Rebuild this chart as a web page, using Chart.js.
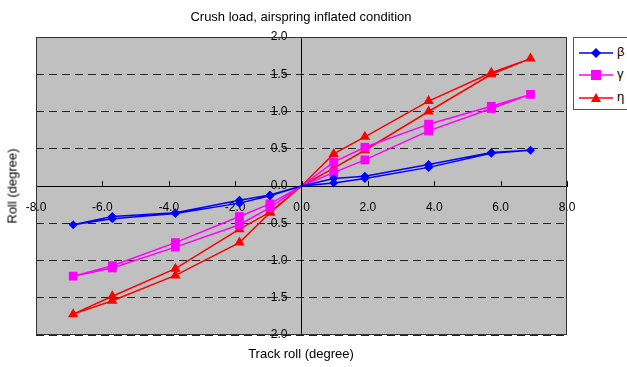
<!DOCTYPE html>
<html>
<head>
<meta charset="utf-8" />
<title>Crush load chart</title>
<script src="https://cdn.jsdelivr.net/npm/chart.js"></script>
<style>
  body, html { margin: 0; padding: 0; background: #fff; font-family: Arial, "Liberation Sans", sans-serif; }
  #wrap { position: relative; width: 627px; height: 367px; }
  canvas { position: absolute; left: 0; top: 0; }
  .title { position: absolute; top: 9px; left: 0; width: 602px; text-align: center; font-size: 13px; color: #000; }
  .xtitle { position: absolute; top: 346px; left: 0; width: 602px; text-align: center; font-size: 13px; color: #000; }
  .ytitle { position: absolute; left: 12px; top: 186px; font-size: 13px; font-weight: normal; color: #000; transform: translate(-50%, -50%) rotate(-90deg); white-space: nowrap; }
  .legend { position: absolute; left: 573px; top: 37px; width: 60px; height: 73px; border: 1px solid #555; background: #fff; box-sizing: border-box; }
  .legend .row { position: absolute; left: 5px; height: 16px; font-size: 13px; }
  .legend svg { position: absolute; left: 0; top: 0; }
  .legend span { position: absolute; left: 38px; top: -1px; }
</style>
</head>
<body>
<div id="wrap">
  <canvas id="myChart" width="627" height="367"></canvas>
  <div class="title">Crush load, airspring inflated condition</div>
  <div class="xtitle">Track roll (degree)</div>
  <div class="ytitle">Roll (degree)</div>
  <div class="legend">
    <div class="row" style="top:7px">
      <svg width="36" height="16"><line x1="0" y1="8" x2="34" y2="8" stroke="#0000ff" stroke-width="1.5"/><polygon points="17,3 22,8 17,13 12,8" fill="#0000ff"/></svg>
      <span>β</span>
    </div>
    <div class="row" style="top:29px">
      <svg width="36" height="16"><line x1="0" y1="8" x2="34" y2="8" stroke="#ff00ff" stroke-width="1.5"/><rect x="12" y="3" width="10" height="10" fill="#ff00ff"/></svg>
      <span>γ</span>
    </div>
    <div class="row" style="top:52px">
      <svg width="36" height="16"><line x1="0" y1="8" x2="34" y2="8" stroke="#ff0000" stroke-width="1.5"/><polygon points="17,3 22,12 12,12" fill="#ff0000"/></svg>
      <span>η</span>
    </div>
  </div>
</div>
<script>
  // track roll path: out to +7, back to 0, out to -7, back to 0
  const trackRoll = [0, 0.97, 1.91, 3.83, 5.72, 6.9, 5.72, 3.83, 1.91, 0.97, 0,
                     -0.95, -1.87, -3.8, -5.7, -6.88, -5.7, -3.8, -1.87, -0.95, 0];

  const betaRoll = [0, 0.04, 0.10, 0.25, 0.44, 0.48, 0.45, 0.29, 0.13, 0.10, 0,
                    -0.12, -0.19, -0.36, -0.41, -0.52, -0.44, -0.37, -0.23, -0.13, 0];
  const gammaRoll = [0, 0.18, 0.35, 0.74, 1.04, 1.23, 1.07, 0.83, 0.52, 0.32, 0,
                     -0.24, -0.41, -0.76, -1.07, -1.21, -1.10, -0.82, -0.52, -0.29, 0];
  const etaRoll = [0, 0.24, 0.48, 1.00, 1.50, 1.71, 1.52, 1.14, 0.66, 0.43, 0,
                   -0.35, -0.58, -1.11, -1.48, -1.72, -1.54, -1.20, -0.76, -0.36, 0];

  const seriesNames = ['β', 'γ', 'η'];
  const xTicks = [-8, -6, -4, -2, 0, 2, 4, 6, 8];
  const yTicks = [-2, -1.5, -1, -0.5, 0, 0.5, 1, 1.5, 2];

  function toPoints(ys) {
    return trackRoll.map((x, i) => ({ x: x, y: ys[i] }));
  }
  // no marker at the origin
  function radii(r) {
    return trackRoll.map(x => (x === 0 ? 0 : r));
  }

  const plotFrame = {
    id: 'plotFrame',
    beforeDraw(chart) {
      const { ctx, chartArea: a } = chart;
      ctx.save();
      ctx.fillStyle = '#c0c0c0';
      ctx.fillRect(a.left, a.top, a.right - a.left, a.bottom - a.top);
      ctx.restore();
    },
    afterDraw(chart) {
      const { ctx, chartArea: a } = chart;
      const xs = chart.scales.x, ys = chart.scales.y;
      const y0 = ys.getPixelForValue(0);
      const x0 = xs.getPixelForValue(0);
      ctx.save();
      ctx.strokeStyle = '#000';
      ctx.lineWidth = 1;
      ctx.beginPath();
      xTicks.forEach(v => {
        const px = Math.round(xs.getPixelForValue(v)) + 0.5;
        ctx.moveTo(px, y0);
        ctx.lineTo(px, y0 - 5);
      });
      ctx.stroke();
      // y tick labels, right-aligned just left of the centred axis
      ctx.fillStyle = '#000';
      ctx.font = '12px Arial';
      ctx.textAlign = 'right';
      ctx.textBaseline = 'middle';
      yTicks.forEach(v => {
        ctx.fillText(v.toFixed(1), x0 - 14, ys.getPixelForValue(v));
      });
      ctx.strokeStyle = '#333';
      ctx.strokeRect(a.left + 0.5, a.top + 0.5, a.right - a.left - 1, a.bottom - a.top - 1);
      ctx.restore();
    }
  };

  const ctx = document.getElementById('myChart').getContext('2d');
  new Chart(ctx, {
    type: 'scatter',
    data: {
      datasets: [
        { label: seriesNames[0], data: toPoints(betaRoll), showLine: true, borderColor: '#0000ff', backgroundColor: '#0000ff',
          borderWidth: 1.5, pointStyle: 'rectRot', pointRadius: radii(4.5), pointBorderWidth: 0 },
        { label: seriesNames[1], data: toPoints(gammaRoll), showLine: true, borderColor: '#ff00ff', backgroundColor: '#ff00ff',
          borderWidth: 1.5, pointStyle: 'rect', pointRadius: radii(6.2), pointBorderWidth: 0 },
        { label: seriesNames[2], data: toPoints(etaRoll), showLine: true, borderColor: '#ff0000', backgroundColor: '#ff0000',
          borderWidth: 1.5, pointStyle: 'triangle', pointRadius: radii(6), pointBorderWidth: 0 }
      ]
    },
    options: {
      responsive: false,
      animation: false,
      layout: { padding: { left: 36, right: 60, top: 37, bottom: 32 } },
      plugins: {
        legend: { display: false },
        tooltip: { enabled: false }
      },
      scales: {
        x: {
          type: 'linear',
          position: { y: 0 },
          min: -8, max: 8,
          afterBuildTicks: (s) => { s.ticks = xTicks.map(v => ({ value: v })); },
          ticks: {
            autoSkip: false, maxRotation: 0, padding: 14, color: '#000',
            font: { family: 'Arial', size: 12 },
            callback: (v) => Number(v).toFixed(1)
          },
          grid: { display: true, drawOnChartArea: false, drawTicks: false },
          border: { display: true, color: '#000', width: 1 }
        },
        y: {
          type: 'linear',
          position: { x: 0 },
          min: -2, max: 2,
          afterBuildTicks: (s) => { s.ticks = yTicks.map(v => ({ value: v })); },
          ticks: { display: false },
          grid: { color: '#222', lineWidth: 1, tickLength: 6, drawTicks: false },
          border: { display: true, color: '#000', width: 1, dash: [8, 5] }
        }
      }
    },
    plugins: [plotFrame]
  });
</script>
</body>
</html>
